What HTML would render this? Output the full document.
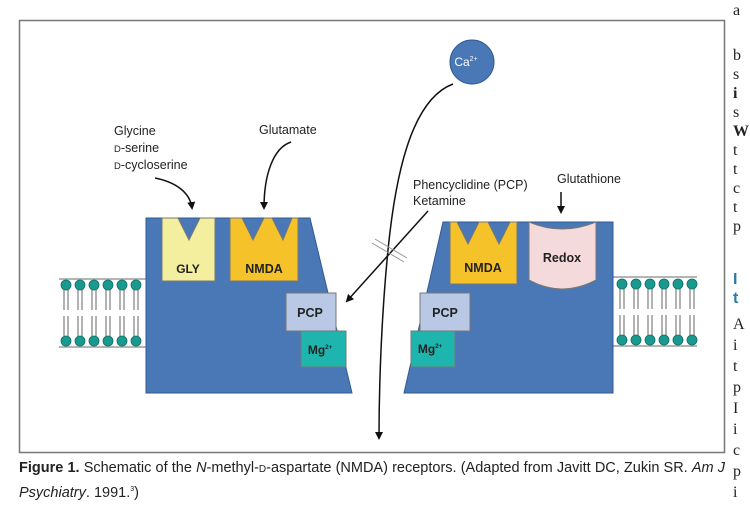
<!DOCTYPE html>
<html><head><meta charset="utf-8"><style>
body{margin:0;background:#fff;width:750px;height:518px;overflow:hidden;position:relative;font-family:"Liberation Sans",sans-serif}
.cap{position:absolute;left:19px;top:458px;width:706px;font-size:14.5px;line-height:20px;color:#222;text-align:justify;text-align-last:left;transform-origin:0 0;}
.sc{font-size:10px}
.col{position:absolute;left:733px;font-family:"Liberation Serif",serif;font-size:16px;color:#222}
</style></head><body>
<svg width="750" height="518" style="position:absolute;left:0;top:0" font-family="Liberation Sans, sans-serif">
<defs><marker id="ah" markerWidth="8" markerHeight="8" refX="6" refY="4" orient="auto" markerUnits="userSpaceOnUse"><path d="M0,0 L8,4 L0,8 Z" fill="#111"/></marker></defs>
<rect x="19.5" y="20.5" width="705" height="432" fill="#fff" stroke="#777" stroke-width="1.5"/>
<g stroke="#888" stroke-width="1.2">
<line x1="59" y1="279" x2="157" y2="279"/><line x1="59" y1="347" x2="157" y2="347"/>
<line x1="613" y1="277" x2="697" y2="277"/><line x1="613" y1="346" x2="697" y2="346"/>
</g>
<g id="ml">
<g stroke="#666" stroke-width="1">
<path d="M64,288V310M68,288V310M78,288V310M82,288V310M92,288V310M96,288V310M106,288V310M110,288V310M120,288V310M124,288V310M134,288V310M138,288V310"/>
<path d="M64,316V337M68,316V337M78,316V337M82,316V337M92,316V337M96,316V337M106,316V337M110,316V337M120,316V337M124,316V337M134,316V337M138,316V337"/>
</g>
<g fill="#1a9a8e" stroke="#0c6f66" stroke-width="0.8">
<circle cx="66" cy="285" r="5"/><circle cx="80" cy="285" r="5"/><circle cx="94" cy="285" r="5"/><circle cx="108" cy="285" r="5"/><circle cx="122" cy="285" r="5"/><circle cx="136" cy="285" r="5"/>
<circle cx="66" cy="341" r="5"/><circle cx="80" cy="341" r="5"/><circle cx="94" cy="341" r="5"/><circle cx="108" cy="341" r="5"/><circle cx="122" cy="341" r="5"/><circle cx="136" cy="341" r="5"/>
</g></g>
<use href="#ml" transform="translate(556,-1)"/>
<polygon points="146,218 310,218 352,393 146,393" fill="#4a78b6" stroke="#2f5a92" stroke-width="1"/>
<polygon points="443,222 613,222 613,393 404,393" fill="#4a78b6" stroke="#2f5a92" stroke-width="1"/>
<polygon points="162,218 178,218 189,240 200,218 215,218 215,281 162,281" fill="#f3ef9e" stroke="#777" stroke-width="1"/>
<text x="188" y="273" font-size="12" font-weight="bold" text-anchor="middle" fill="#222">GLY</text>
<polygon points="230,218 242,218 253,240 264,218 272,218 283,240 292,218 298,218 298,281 230,281" fill="#f6c22a" stroke="#777" stroke-width="1"/>
<text x="264" y="273" font-size="12.5" font-weight="bold" text-anchor="middle" fill="#222">NMDA</text>
<polygon points="450,222 457,222 468,244 479,222 488,222 499,244 510,222 517,222 517,284 450,284" fill="#f6c22a" stroke="#777" stroke-width="1"/>
<text x="483" y="272" font-size="12.5" font-weight="bold" text-anchor="middle" fill="#222">NMDA</text>
<path d="M529,222 Q562,236 596,222 L596,280 Q562,298 529,280 Z" fill="#f4dada" stroke="#777" stroke-width="1"/>
<text x="562" y="262" font-size="12.5" font-weight="bold" text-anchor="middle" fill="#222">Redox</text>
<rect x="286" y="293" width="50" height="38" fill="#b9c9e5" stroke="#777"/>
<text x="310" y="317" font-size="12.5" font-weight="bold" text-anchor="middle" fill="#222">PCP</text>
<rect x="301" y="331" width="45" height="36" fill="#1eb5ae" stroke="#777"/>
<text x="320" y="354" font-size="12" font-weight="bold" text-anchor="middle" fill="#222">Mg<tspan font-size="6" dy="-5">2+</tspan></text>
<rect x="420" y="293" width="50" height="38" fill="#b9c9e5" stroke="#777"/>
<text x="445" y="317" font-size="12.5" font-weight="bold" text-anchor="middle" fill="#222">PCP</text>
<rect x="411" y="331" width="44" height="36" fill="#1eb5ae" stroke="#777"/>
<text x="430" y="353" font-size="12" font-weight="bold" text-anchor="middle" fill="#222">Mg<tspan font-size="6" dy="-5">2+</tspan></text>
<circle cx="472" cy="62" r="22" fill="#4a78b6" stroke="#2f5a92"/>
<text x="466" y="66" font-size="12" text-anchor="middle" fill="#fff">Ca<tspan font-size="7" dy="-5">2+</tspan></text>
<path d="M453,84 C410,100 395,180 388,250 C382,310 379,380 379,438" fill="none" stroke="#111" stroke-width="1.5" marker-end="url(#ah)"/>
<line x1="428" y1="211" x2="347" y2="301" stroke="#111" stroke-width="1.5" marker-end="url(#ah)"/>
<g stroke="#999" stroke-width="1"><line x1="372" y1="243" x2="404" y2="262"/><line x1="375" y1="239" x2="407" y2="258"/></g>
<g font-size="12.5" fill="#222">
<text x="114" y="135">Glycine</text>
<text x="114" y="152"><tspan font-size="9.5">D</tspan>-serine</text>
<text x="114" y="169"><tspan font-size="9.5">D</tspan>-cycloserine</text>
<text x="259" y="134">Glutamate</text>
<text x="413" y="189">Phencyclidine (PCP)</text>
<text x="413" y="205">Ketamine</text>
<text x="557" y="183">Glutathione</text>
</g>
<path d="M155,178 C175,182 190,192 192,208" fill="none" stroke="#111" stroke-width="1.5" marker-end="url(#ah)"/>
<path d="M291,142 C273,148 264,175 264,208" fill="none" stroke="#111" stroke-width="1.5" marker-end="url(#ah)"/>
<line x1="561" y1="192" x2="561" y2="212" stroke="#111" stroke-width="1.5" marker-end="url(#ah)"/>
</svg>
<div class="cap"><b>Figure 1.</b> Schematic of the <i>N</i>-methyl-<span class="sc">D</span>-aspartate (NMDA) receptors. (Adapted from Javitt DC, Zukin SR. <i>Am J Psychiatry</i>. 1991.<sup style="font-size:7px">3</sup>)</div>
<div class="col" style="top:2px">a</div>
<div class="col" style="top:46px;line-height:19px">b<br>s<br><b>i</b><br>s<br><b>W</b><br>t<br>t<br>c<br>t<br>p</div>
<div class="col" style="top:270px;line-height:19px;color:#2a7ab0;font-family:'Liberation Sans',sans-serif;font-weight:bold">I<br>t</div>
<div class="col" style="top:314px;line-height:21px">A<br>i<br>t<br>p<br>I<br>i<br>c<br>p<br>i</div>
</body></html>
